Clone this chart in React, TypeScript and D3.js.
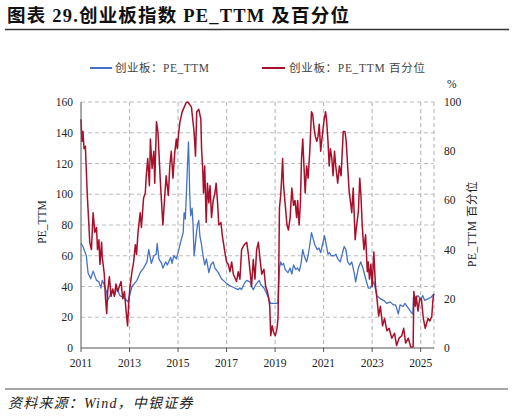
import React from 'react';
import * as d3 from 'd3';

/* ── Data (decimal year, value) ────────────────────────────────── */
const peSeries: [number, number][] = [
  [2011.0, 68], [2011.08, 66], [2011.15, 63], [2011.22, 60], [2011.29, 49], [2011.4, 45],
  [2011.5, 50], [2011.64, 44], [2011.74, 43], [2011.82, 39], [2011.875, 44], [2011.96, 41],
  [2012.06, 36], [2012.1, 31], [2012.19, 34], [2012.26, 37], [2012.4, 35], [2012.47, 39],
  [2012.61, 34], [2012.82, 32], [2012.93, 30], [2013.0, 34], [2013.1, 40], [2013.31, 44],
  [2013.44, 49], [2013.58, 52], [2013.72, 56], [2013.79, 64], [2013.9, 55], [2014.0, 60],
  [2014.1, 61], [2014.14, 68], [2014.21, 58], [2014.32, 55], [2014.375, 52], [2014.49, 56],
  [2014.56, 54], [2014.7, 59], [2014.75, 55], [2014.83, 60], [2014.93, 58], [2015.0, 62],
  [2015.11, 69], [2015.21, 75], [2015.25, 88], [2015.3, 84], [2015.34, 99], [2015.39, 119],
  [2015.43, 134], [2015.455, 120], [2015.48, 101], [2015.52, 86], [2015.58, 91], [2015.62, 80],
  [2015.66, 60], [2015.69, 64], [2015.76, 75], [2015.8, 80], [2015.855, 83], [2015.9, 73],
  [2015.97, 67], [2016.03, 60], [2016.1, 54], [2016.17, 58], [2016.27, 49], [2016.35, 54],
  [2016.45, 56], [2016.52, 52], [2016.66, 49], [2016.79, 45], [2016.93, 43], [2017.07, 41],
  [2017.21, 40], [2017.34, 39], [2017.48, 38], [2017.55, 39], [2017.62, 38], [2017.73, 42],
  [2017.83, 44], [2017.97, 43], [2018.03, 40], [2018.1, 38], [2018.2, 41], [2018.34, 44],
  [2018.42, 41], [2018.54, 39], [2018.64, 36], [2018.74, 32], [2018.81, 29], [2018.95, 29],
  [2019.08, 29], [2019.12, 30], [2019.18, 52], [2019.23, 56], [2019.28, 54], [2019.35, 55],
  [2019.42, 51], [2019.53, 49], [2019.62, 52], [2019.69, 48], [2019.76, 54], [2019.85, 51],
  [2019.93, 52], [2020.0, 50], [2020.07, 55], [2020.14, 64], [2020.2, 60], [2020.3, 56],
  [2020.36, 60], [2020.43, 67], [2020.5, 75], [2020.57, 71], [2020.64, 67], [2020.74, 64],
  [2020.81, 65], [2020.88, 62], [2020.95, 67], [2021.04, 73], [2021.11, 67], [2021.18, 61],
  [2021.24, 62], [2021.31, 60], [2021.42, 60], [2021.51, 61], [2021.58, 58], [2021.69, 56],
  [2021.78, 62], [2021.85, 66], [2021.92, 64], [2021.99, 56], [2022.08, 54], [2022.16, 56],
  [2022.26, 49], [2022.32, 43], [2022.43, 52], [2022.53, 56], [2022.62, 52], [2022.7, 47],
  [2022.77, 43], [2022.84, 39], [2022.93, 39], [2023.07, 43], [2023.2, 34], [2023.34, 32],
  [2023.47, 31], [2023.61, 29], [2023.74, 30], [2023.88, 28], [2023.97, 28], [2024.08, 22],
  [2024.15, 28], [2024.28, 27], [2024.35, 29], [2024.49, 26], [2024.62, 23], [2024.68, 22],
  [2024.7, 33], [2024.82, 33], [2024.89, 34], [2025.0, 32], [2025.09, 34], [2025.16, 31],
  [2025.3, 32], [2025.43, 33], [2025.54, 35],
];

const pctSeries: [number, number][] = [
  [2011.0, 93], [2011.04, 84], [2011.08, 88], [2011.125, 81], [2011.18, 82], [2011.22, 72],
  [2011.26, 62], [2011.32, 51], [2011.36, 43], [2011.43, 40], [2011.5, 55], [2011.57, 47],
  [2011.64, 49], [2011.68, 40], [2011.74, 44], [2011.78, 34], [2011.85, 43], [2011.875, 37],
  [2011.96, 30], [2012.01, 20], [2012.06, 14], [2012.1, 23], [2012.17, 29], [2012.24, 21],
  [2012.31, 24], [2012.375, 21], [2012.44, 26], [2012.51, 23], [2012.65, 27], [2012.72, 20],
  [2012.79, 23], [2012.86, 15], [2012.92, 9], [2012.96, 17], [2013.01, 24], [2013.1, 31],
  [2013.17, 35], [2013.24, 42], [2013.29, 38], [2013.35, 47], [2013.44, 55], [2013.49, 49],
  [2013.58, 61], [2013.65, 63], [2013.69, 70], [2013.75, 77], [2013.82, 66], [2013.86, 85],
  [2013.93, 73], [2014.0, 80], [2014.04, 67], [2014.11, 92], [2014.17, 88], [2014.28, 66],
  [2014.375, 50], [2014.46, 63], [2014.51, 70], [2014.6, 62], [2014.66, 74], [2014.72, 80],
  [2014.79, 69], [2014.86, 79], [2014.93, 85], [2014.97, 81], [2015.03, 88], [2015.08, 92],
  [2015.17, 96], [2015.34, 99.9], [2015.41, 99.9], [2015.55, 98], [2015.66, 88], [2015.72, 78],
  [2015.77, 96], [2015.855, 97], [2015.94, 93], [2015.97, 81], [2016.02, 72], [2016.05, 63],
  [2016.1, 74], [2016.16, 51], [2016.21, 67], [2016.27, 59], [2016.32, 66], [2016.38, 53],
  [2016.45, 60], [2016.52, 63], [2016.57, 67], [2016.63, 59], [2016.68, 50], [2016.77, 51],
  [2016.82, 46], [2016.93, 39], [2017.0, 35], [2017.07, 34], [2017.14, 31], [2017.21, 35],
  [2017.28, 30], [2017.41, 27], [2017.48, 31], [2017.55, 28], [2017.62, 40], [2017.73, 42],
  [2017.83, 43], [2017.9, 38], [2017.97, 31], [2018.03, 25], [2018.1, 36], [2018.17, 28],
  [2018.24, 40], [2018.31, 43], [2018.38, 36], [2018.45, 30], [2018.54, 32], [2018.61, 25],
  [2018.68, 23], [2018.74, 20], [2018.78, 17], [2018.82, 5], [2018.88, 9], [2018.95, 6],
  [2019.01, 5], [2019.08, 8], [2019.12, 12], [2019.15, 31], [2019.18, 57], [2019.23, 62],
  [2019.26, 67], [2019.31, 77], [2019.35, 66], [2019.42, 58], [2019.49, 50], [2019.55, 48],
  [2019.62, 53], [2019.69, 65], [2019.76, 58], [2019.82, 60], [2019.89, 53], [2019.93, 60],
  [2019.99, 50], [2020.04, 58], [2020.09, 77], [2020.14, 85], [2020.19, 74], [2020.24, 63],
  [2020.3, 74], [2020.36, 69], [2020.43, 80], [2020.5, 96], [2020.55, 95], [2020.61, 89],
  [2020.66, 86], [2020.72, 84], [2020.77, 86], [2020.82, 91], [2020.88, 80], [2020.93, 85],
  [2021.01, 92], [2021.08, 96], [2021.12, 93], [2021.18, 84], [2021.23, 74], [2021.28, 81],
  [2021.34, 77], [2021.39, 70], [2021.45, 80], [2021.5, 74], [2021.58, 67], [2021.65, 74],
  [2021.72, 70], [2021.81, 88], [2021.88, 88], [2021.93, 84], [2021.99, 74], [2022.05, 64],
  [2022.1, 60], [2022.16, 55], [2022.22, 65], [2022.3, 44], [2022.35, 49], [2022.43, 55],
  [2022.49, 69], [2022.54, 62], [2022.59, 50], [2022.66, 40], [2022.73, 46], [2022.8, 31],
  [2022.84, 35], [2022.89, 28], [2022.95, 34], [2023.0, 25], [2023.07, 39], [2023.14, 25],
  [2023.2, 20], [2023.27, 13], [2023.34, 17], [2023.43, 9], [2023.51, 12], [2023.61, 7],
  [2023.7, 8], [2023.81, 4], [2023.92, 6], [2024.01, 1], [2024.11, 4], [2024.22, 5],
  [2024.3, 8], [2024.38, 2], [2024.49, 4], [2024.59, 0.4], [2024.69, 0.4], [2024.72, 23],
  [2024.78, 17], [2024.82, 21], [2024.89, 15], [2024.96, 20], [2025.03, 20], [2025.11, 12],
  [2025.19, 8], [2025.3, 12], [2025.38, 11], [2025.46, 13], [2025.51, 20], [2025.54, 22],
];

const yearTicks = [2011, 2013, 2015, 2017, 2019, 2021, 2023, 2025];
const leftTicks = [0, 20, 40, 60, 80, 100, 120, 140, 160];
const rightTicks = [0, 20, 40, 60, 80, 100];

const BLUE = '#4472c4';
const RED = '#a80f2a';
const SERIF = '"Liberation Serif", "Times New Roman", "Noto Sans CJK SC", serif';
const CJK = '"Liberation Serif", "Noto Sans CJK SC", serif';

export default function App() {
  const width = 514;
  const height = 416;
  const plot = { left: 81, right: 434, top: 102, bottom: 348 };

  const x = d3.scaleLinear().domain([2011, 2025.55]).range([plot.left, plot.right]);
  const yL = d3.scaleLinear().domain([0, 160]).range([plot.bottom, plot.top]);
  const yR = d3.scaleLinear().domain([0, 100]).range([plot.bottom, plot.top]);

  const peLine = d3.line<[number, number]>().x(d => x(d[0])).y(d => yL(d[1]));
  const pctLine = d3.line<[number, number]>().x(d => x(d[0])).y(d => yR(d[1]));

  const grid = '#bdbdbd';
  const dash = '4,3';

  return (
    <svg
      width={width}
      height={height}
      style={{ position: 'absolute', left: 0, top: 0, background: '#fff' }}
    >
      {/* Title */}
      <text x={7} y={22} fontFamily={CJK} fontWeight="bold" fontSize={18.5} letterSpacing={1.2} fill="#111">
        图表 29.创业板指数 PE_TTM 及百分位
      </text>
      <line x1={5} x2={509} y1={29.5} y2={29.5} stroke="#333" strokeWidth={1.3} />

      {/* Legend */}
      <line x1={90} x2={112} y1={68} y2={68} stroke={BLUE} strokeWidth={2} />
      <text x={115} y={72} fontFamily={CJK} fontSize={11.5} letterSpacing={0.5} fill="#444">
        创业板：PE_TTM
      </text>
      <line x1={262} x2={285} y1={68} y2={68} stroke={RED} strokeWidth={2} />
      <text x={289} y={72} fontFamily={CJK} fontSize={11.5} letterSpacing={0.7} fill="#444">
        创业板：PE_TTM 百分位
      </text>

      {/* Grid */}
      {leftTicks.filter(t => t > 0).map(t => (
        <line key={'h' + t} x1={plot.left} x2={plot.right} y1={yL(t)} y2={yL(t)}
          stroke={grid} strokeWidth={1.2} strokeDasharray={dash} />
      ))}
      {yearTicks.filter(t => t > 2011).map(t => (
        <line key={'v' + t} x1={x(t)} x2={x(t)} y1={plot.top} y2={plot.bottom}
          stroke={grid} strokeWidth={1.2} strokeDasharray={dash} />
      ))}
      <line x1={plot.right} x2={plot.right} y1={plot.top} y2={plot.bottom}
        stroke={grid} strokeWidth={1.2} strokeDasharray={dash} />

      {/* Series */}
      <path d={peLine(peSeries) || ''} fill="none" stroke={BLUE} strokeWidth={1.3} strokeLinejoin="round" />
      <path d={pctLine(pctSeries) || ''} fill="none" stroke={RED} strokeWidth={1.5} strokeLinejoin="round" />

      {/* Axes */}
      <line x1={plot.left} x2={plot.left} y1={plot.top} y2={plot.bottom} stroke="#555" strokeWidth={1} />
      <line x1={plot.left} x2={plot.right} y1={plot.bottom} y2={plot.bottom} stroke="#555" strokeWidth={1.2} />
      {yearTicks.map(t => (
        <g key={'xt' + t}>
          <line x1={x(t)} x2={x(t)} y1={plot.bottom} y2={plot.bottom + 4} stroke="#555" />
          <text x={x(t)} y={367} textAnchor="middle" fontFamily={SERIF} fontSize={11.5} fill="#222">
            {t}
          </text>
        </g>
      ))}
      {leftTicks.map(t => (
        <text key={'yl' + t} x={73} y={yL(t) + 4} textAnchor="end" fontFamily={SERIF} fontSize={11.5} fill="#222">
          {t}
        </text>
      ))}
      {rightTicks.map(t => (
        <text key={'yr' + t} x={444} y={yR(t) + 4} fontFamily={SERIF} fontSize={11.5} fill="#222">
          {t}
        </text>
      ))}
      <text x={447} y={88} fontFamily={SERIF} fontSize={11.5} fill="#222">%</text>

      {/* Axis titles */}
      <text transform="translate(46,222) rotate(-90)" textAnchor="middle" fontFamily={SERIF} fontSize={11.5} fill="#222">
        PE_TTM
      </text>
      <text transform="translate(476,224) rotate(-90)" textAnchor="middle" fontFamily={CJK} fontSize={11.5} letterSpacing={0.5} fill="#222">
        PE_TTM 百分位
      </text>

      {/* Source */}
      <line x1={5} x2={508} y1={389} y2={389} stroke="#888" strokeWidth={1.5} />
      <text x={8} y={408} fontFamily={CJK} fontStyle="italic" fontSize={14} letterSpacing={1.2} fill="#222">
        资料来源：Wind，中银证券
      </text>
    </svg>
  );
}
